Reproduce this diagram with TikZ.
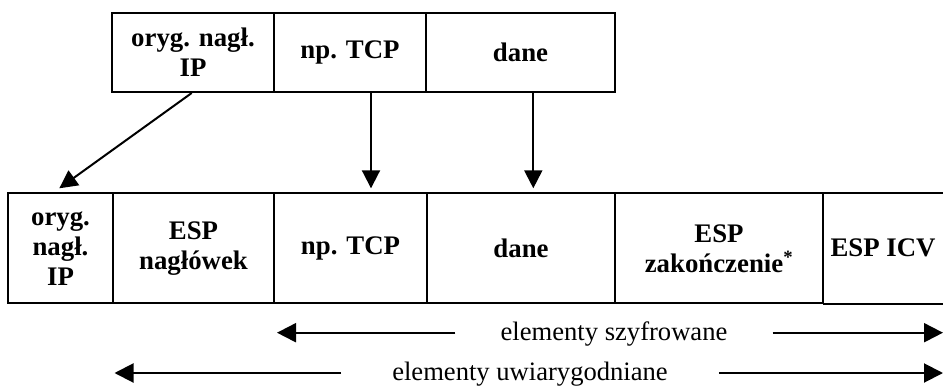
\documentclass[tikz,border=0pt]{standalone}
\usepackage{fontspec}
\setmainfont{Liberation Serif}
\usetikzlibrary{arrows.meta,calc}
\tikzset{
  cell/.style={draw, line width=2pt, inner sep=0pt, align=center,
    font=\bfseries\fontsize{26.8}{30}\selectfont},
  plain/.style={inner sep=0pt, align=center,
    font=\bfseries\fontsize{26.8}{30}\selectfont},
  lbl/.style={inner ysep=0pt, font=\fontsize{26.6}{30}\selectfont},
  arr/.style={line width=2pt, -{Triangle[length=18pt,width=18pt]}},
  harr/.style={line width=2pt, -{Triangle[length=19pt,width=19pt]}},
  border/.style={line width=2pt}
}
\begin{document}
\begin{tikzpicture}[x=1pt,y=-1pt]
\useasboundingbox (0,0) rectangle (943,388);
% top row
\node[cell, minimum width=162pt, minimum height=79pt] (t1) at (193,52.5) {oryg. nagł.\\IP};
\node[cell, minimum width=152pt, minimum height=79pt] (t2) at (350,52.5) {np. TCP};
\node[cell, minimum width=189pt, minimum height=79pt] (t3) at (520.5,52.5) {dane};
% bottom row
\node[cell, minimum width=105pt, minimum height=110pt] (b1) at (60.5,248.3) {oryg.\\nagł.\\IP};
\node[cell, minimum width=161pt, minimum height=110pt] (b2) at (193.5,248.3) {ESP\\nagłówek};
\node[cell, minimum width=153pt, minimum height=110pt] (b3) at (350.5,248.3) {np. TCP};
\node[cell, minimum width=188pt, minimum height=110pt] (b4) at (521,248.3) {dane};
\node[cell, minimum width=208pt, minimum height=110pt] (b5) at (719,248.3) {ESP\\zakończenie\textsuperscript{*}};
\node[plain, minimum width=120pt, minimum height=110pt] (b6) at (883,248.3) {ESP ICV};
\draw[border] (b6.north west) -- (b6.north east);
\draw[border] (b6.south west) -- (b6.south east);
% arrows from top to bottom
\draw[arr] ($(t1.south)+(-1.3,0)$) -- ($(b1.north)+(-1.2,-4)$);
\draw[arr] ($(t2.south)+(21,0)$) -- ($(b3.north)+(20.5,-4)$);
\draw[arr] ($(t3.south)+(12.8,0)$) -- ($(b4.north)+(12.3,-4)$);
% bottom labels
\node[lbl, inner xsep=45pt, anchor=base] (sz) at (614,340) {elementy szyfrowane};
\coordinate (szL) at (277,332.7);
\coordinate (szR) at (943,332.7);
\draw[harr] (sz.west |- szL) -- (szL);
\draw[harr] (sz.east |- szR) -- (szR);
\node[lbl, inner xsep=51pt, anchor=base] (uw) at (530,380) {elementy uwiarygodniane};
\coordinate (uwL) at (114.5,373);
\coordinate (uwR) at (943,373);
\draw[harr] (uw.west |- uwL) -- (uwL);
\draw[harr] (uw.east |- uwR) -- (uwR);
\end{tikzpicture}
\end{document}
